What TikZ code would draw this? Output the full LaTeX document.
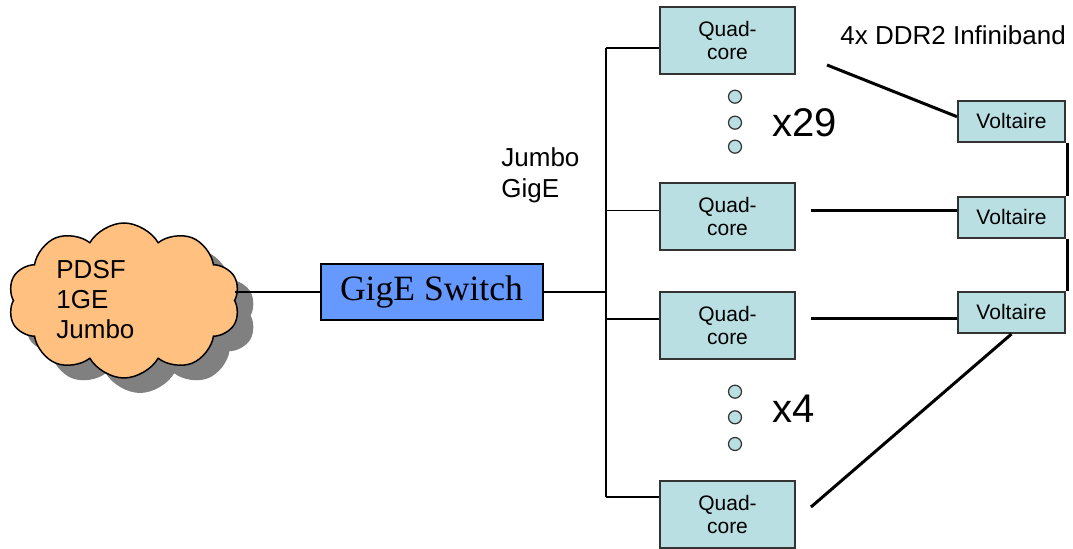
\documentclass[tikz,border=0pt]{standalone}
\usepackage{fontspec}
\setmainfont{Liberation Sans}
\newfontfamily\timesfont{Liberation Serif}
\usetikzlibrary{shapes.symbols,shadows,calc}

\definecolor{nodecyan}{RGB}{185,223,227}
\definecolor{switchblue}{RGB}{102,153,255}
\definecolor{cloudorange}{RGB}{255,192,128}

\tikzset{
  quad/.style={draw=black!80, line width=1pt, fill=nodecyan, minimum width=67.5pt,
    minimum height=33.5pt, inner sep=0pt, align=center,
    font=\fontsize{10.5}{11.5}\selectfont},
  volt/.style={draw=black!80, line width=1pt, fill=nodecyan, minimum width=53.5pt,
    minimum height=20.5pt, inner sep=0pt, font=\fontsize{10.5}{11.5}\selectfont},
  dotnode/.style={circle, draw=black!80, line width=0.6pt, fill=nodecyan,
    minimum size=6.5pt, inner sep=0pt},
  gige/.style={line width=0.75pt},
  ib/.style={line width=1.5pt},
  lbl/.style={inner sep=0pt, align=left, font=\fontsize{13}{15.5}\selectfont},
}

\begin{document}
\begin{tikzpicture}[x=0.5pt,y=0.5pt]
\useasboundingbox (0,0) rectangle (1073,-549);

% PDSF cloud
\node[cloud, cloud puffs=10, cloud puff arc=120, aspect=1.5, draw, line width=0.75pt,
  fill=cloudorange, minimum width=116pt, minimum height=77.5pt, inner sep=0pt,
  general shadow={fill=black!50, shadow xshift=8pt, shadow yshift=-7.5pt}]
  (pdsf) at (124,-300.5) {};
\node[lbl, anchor=base west, font=\fontsize{13}{15}\selectfont] (pdsftext) at (56,-339) {PDSF\\1GE\\Jumbo};

% switch
\node[draw, line width=1pt, fill=switchblue, minimum width=111pt, minimum height=28pt,
  inner sep=0pt, font=\timesfont\fontsize{17.8}{20}\selectfont] (sw) at (431.5,-292) {GigE Switch};

% quad-core nodes
\node[quad] (q1) at (727.5,-40.5) {Quad-\\core};
\node[quad] (q2) at (727.5,-216.5) {Quad-\\core};
\node[quad] (q3) at (727.5,-325.5) {Quad-\\core};
\node[quad] (q4) at (727.5,-514.5) {Quad-\\core};

% voltaire switches
\node[volt] (v1) at (1011.5,-121.5) {Voltaire};
\node[volt] (v2) at (1011.5,-217.5) {Voltaire};
\node[volt] (v3) at (1011.5,-312.5) {Voltaire};

% dots
\foreach \y [count=\i] in {96.7,122.7,146.7}
  \node[dotnode] (da\i) at (735,-\y) {};
\foreach \y [count=\i] in {391.7,417.3,444}
  \node[dotnode] (db\i) at (735,-\y) {};

% labels
\node[lbl, anchor=west, font=\fontsize{20}{24}\selectfont] (x29) at (772,-123) {x29};
\node[lbl, anchor=west, font=\fontsize{20}{24}\selectfont] (x4) at (772,-409) {x4};
\node[lbl, anchor=base west] (jumbo) at (501,-197.7) {Jumbo\\GigE};
\node[lbl, anchor=west] (ddr) at (840,-35.5) {4x DDR2 Infiniband};

% gige network
\foreach \y [count=\i] in {48,210.7,319,497}
  \coordinate (b\i) at (606,-\y);
\draw[gige] (sw.west) -- (sw.west -| pdsf.east);
\draw[gige] (sw.east) -- (sw.east -| b1);
\draw[gige] (b1) -- (b4);
\foreach \i in {1,...,4}
  \draw[gige] (b\i) -- (b\i -| q\i.west);

% infiniband links
\coordinate (ib1) at (827,-65);
\draw[ib] (ib1) -- ($(v1.west)+(0,4.8)$);
\draw[ib] ($(q2.east |- b2)+(15,0)$) -- (v2.west |- b2);
\draw[ib] ($(q3.east |- b3)+(15,0)$) -- (v3.west |- b3);
\draw[ib] ($(q4.east)+(15,7.5)$) -- (v3.south);
\draw[ib] ($(v1.south east)+(1.5,0)$) -- ($(v2.north east)+(1.5,0)$);
\draw[ib] ($(v2.south east)+(1.5,0)$) -- ($(v3.north east)+(1.5,0)$);
\end{tikzpicture}
\end{document}
